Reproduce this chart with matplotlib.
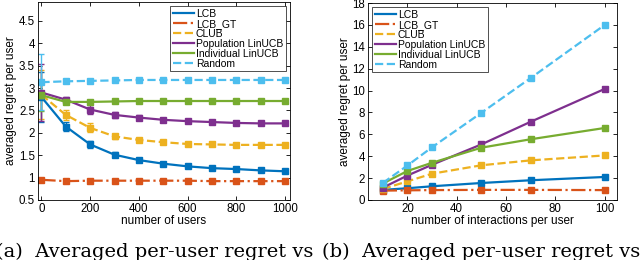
import matplotlib
matplotlib.use("Agg")
import matplotlib.pyplot as plt

plt.rcParams['font.family'] = ['Liberation Sans', 'DejaVu Sans']

# --- data ---------------------------------------------------------------
labels = ["LCB", "LCB_GT", "CLUB", "Population LinUCB", "Individual LinUCB", "Random"]

users = [0, 100, 200, 300, 400, 500, 600, 700, 800, 900, 1000]
users_lcb = [2.80, 2.14, 1.74, 1.51, 1.39, 1.31, 1.25, 1.21, 1.19, 1.16, 1.14]
users_lcb_gt = [0.95, 0.92, 0.93, 0.93, 0.93, 0.93, 0.93, 0.92, 0.92, 0.92, 0.92]
users_club = [2.85, 2.40, 2.11, 1.92, 1.84, 1.79, 1.75, 1.74, 1.73, 1.73, 1.73]
users_pop = [2.90, 2.74, 2.52, 2.40, 2.34, 2.29, 2.26, 2.24, 2.22, 2.21, 2.21]
users_ind = [2.84, 2.69, 2.69, 2.70, 2.71, 2.71, 2.71, 2.71, 2.71, 2.71, 2.71]
users_rand = [3.13, 3.15, 3.16, 3.17, 3.18, 3.18, 3.18, 3.18, 3.18, 3.18, 3.18]
users_lcb_err = [0.55, 0.10, 0.08, 0.05, 0.05, 0.03, 0.03, 0.03, 0.02, 0.02, 0.02]
users_lcb_gt_err = [0.02, 0.01, 0.01, 0.01, 0.01, 0.01, 0.01, 0.01, 0.01, 0.01, 0.01]
users_club_err = [0.55, 0.12, 0.10, 0.06, 0.05, 0.03, 0.02, 0.02, 0.02, 0.02, 0.02]
users_pop_err = [0.63, 0.07, 0.09, 0.07, 0.05, 0.04, 0.03, 0.03, 0.02, 0.02, 0.02]
users_ind_err = [0.35, 0.04, 0.02, 0.02, 0.02, 0.02, 0.02, 0.02, 0.02, 0.02, 0.02]
users_rand_err = [0.62, 0.04, 0.05, 0.04, 0.03, 0.03, 0.02, 0.02, 0.02, 0.02, 0.02]

inter = [10, 20, 30, 50, 70, 100]
inter_lcb = [0.92, 1.07, 1.25, 1.55, 1.80, 2.10]
inter_lcb_gt = [0.85, 0.88, 0.90, 0.92, 0.92, 0.90]
inter_club = [1.00, 1.70, 2.40, 3.17, 3.62, 4.07]
inter_pop = [1.12, 2.23, 3.22, 5.08, 7.15, 10.15]
inter_ind = [1.50, 2.65, 3.40, 4.78, 5.55, 6.58]
inter_rand = [1.55, 3.15, 4.82, 7.97, 11.15, 16.0]
inter_err = [0.05, 0.06, 0.08, 0.12, 0.15, 0.18]

colors = [(0, 0.447, 0.741), (0.85, 0.325, 0.098), (0.929, 0.694, 0.125),
          (0.494, 0.184, 0.556), (0.466, 0.674, 0.188), (0.301, 0.745, 0.933)]
styles = ['-', '-.', '--', '-', '-', '--']

fig = plt.figure(figsize=(6.4, 2.6), dpi=100)
ax1 = fig.add_axes([0.059, 0.231, 0.394, 0.761])
ax2 = fig.add_axes([0.575, 0.231, 0.389, 0.757])

left_vals = [users_lcb, users_lcb_gt, users_club, users_pop, users_ind, users_rand]
left_errs = [users_lcb_err, users_lcb_gt_err, users_club_err, users_pop_err, users_ind_err, users_rand_err]
for vals, errs, c, ls, lab in zip(left_vals, left_errs, colors, styles, labels):
    ax1.errorbar(users, vals, yerr=errs, color=c, linestyle=ls, linewidth=1.6,
                 marker='s', markersize=4.2, capsize=2.5, elinewidth=1.0, label=lab)

right_vals = [inter_lcb, inter_lcb_gt, inter_club, inter_pop, inter_ind, inter_rand]
for vals, c, ls, lab in zip(right_vals, colors, styles, labels):
    ax2.errorbar(inter, vals, yerr=inter_err, color=c, linestyle=ls, linewidth=1.6,
                 marker='s', markersize=4.2, capsize=2, elinewidth=1.0, label=lab)

ax1.set_xlim(-15, 1020)
ax1.set_ylim(0.5, 4.92)
ax1.set_xticks(range(0, 1001, 200))
ax1.set_yticks([0.5, 1, 1.5, 2, 2.5, 3, 3.5, 4, 4.5])
ax1.set_yticklabels(["0.5", "1", "1.5", "2", "2.5", "3", "3.5", "4", "4.5"])
ax1.set_xlabel("number of users", fontsize=8.5, labelpad=0)
ax1.set_ylabel("averaged regret per user", fontsize=8.5, labelpad=1)

ax2.set_xlim(4, 105)
ax2.set_ylim(0, 18)
ax2.set_xticks(range(20, 101, 20))
ax2.set_yticks(range(0, 19, 2))
ax2.set_xlabel("number of interactions per user", fontsize=8.5, labelpad=0)
ax2.set_ylabel("averaged regret per user", fontsize=8.5, labelpad=1)

for ax in (ax1, ax2):
    ax.tick_params(direction='in', top=True, right=True, labelsize=8.3,
                   length=3, width=0.6, pad=2)
    for sp in ax.spines.values():
        sp.set_linewidth(0.6)

leg_kw = dict(fontsize=7.5, frameon=True, fancybox=False, edgecolor='black',
              handlelength=2.0, handletextpad=0.2, labelspacing=0.0,
              borderpad=0.25, borderaxespad=0.4, numpoints=1)
h, l = ax1.get_legend_handles_labels()
lg1 = ax1.legend([x[0] for x in h], l, loc='upper right', **leg_kw)
h, l = ax2.get_legend_handles_labels()
lg2 = ax2.legend([x[0] for x in h], l, loc='upper left', **leg_kw)
for lg in (lg1, lg2):
    lg.get_frame().set_linewidth(0.6)
    for ln in lg.get_lines():
        ln.set_marker('')

cap_font = ['DejaVu Serif', 'Liberation Serif']
fig.text(-0.006, 0.01, "(a)  Averaged per-user regret vs", fontsize=14,
         family=cap_font, va='baseline', ha='left')
fig.text(0.503, 0.01, "(b)  Averaged per-user regret vs", fontsize=14,
         family=cap_font, va='baseline', ha='left')

fig.savefig("out.png", dpi=100)
